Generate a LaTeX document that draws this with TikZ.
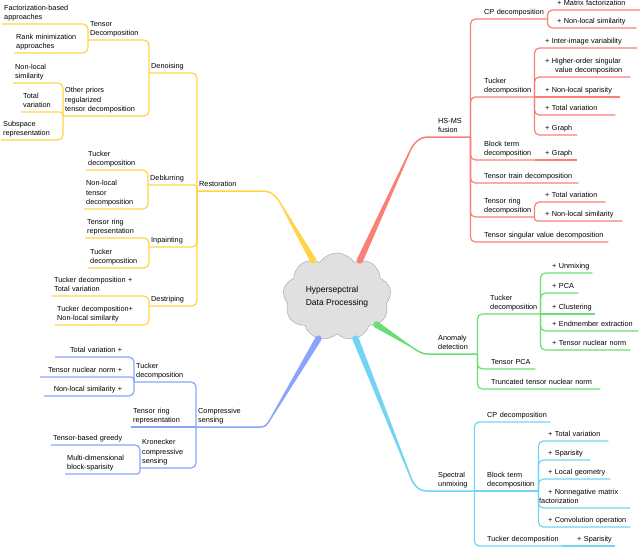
\documentclass[tikz,border=0pt]{standalone}
\usepackage{fontspec}
\setmainfont{Liberation Sans}
\usetikzlibrary{shapes.symbols,calc}
\definecolor{ycol}{RGB}{255,212,71}
\definecolor{rcol}{RGB}{250,128,118}
\definecolor{gcol}{RGB}{104,222,116}
\definecolor{ccol}{RGB}{112,212,242}
\definecolor{bcol}{RGB}{138,164,250}
\definecolor{cloudfill}{RGB}{224,224,224}
\definecolor{cloudline}{RGB}{160,160,160}
\hyphenpenalty=10000
\exhyphenpenalty=10000

\begin{document}
\begin{tikzpicture}[x=1pt,y=-1pt]
\tikzstyle{every node}+=[inner xsep=2pt, inner ysep=1pt]
\tikzstyle{topic}=[anchor=south west, align=left, execute at end node=\strut, font=\fontsize{7.3}{9.5}\selectfont]
\tikzstyle{topicr}=[topic, align=right]
\tikzstyle{ybr}=[draw=ycol, line width=1.2pt, rounded corners=5pt]
\tikzstyle{rbr}=[draw=rcol, line width=1.2pt, rounded corners=5pt]
\tikzstyle{gbr}=[draw=gcol, line width=1.2pt, rounded corners=5pt]
\tikzstyle{cbr}=[draw=ccol, line width=1.2pt, rounded corners=5pt]
\tikzstyle{bbr}=[draw=bcol, line width=1.2pt, rounded corners=5pt]
\useasboundingbox (0,0) rectangle (640,550);

\node[cloud, cloud puffs=9, cloud puff arc=115, aspect=1.25, draw=cloudline, fill=cloudfill, minimum width=108pt, minimum height=88pt, align=left, font=\fontsize{8.5}{13}\selectfont] (hdp) at (337,297) {Hypersepctral\\Data Processing};

% restoration
\node[topic, text width=61pt] (restor) at (197,191) {Restoration};
\node[topic, text width=39pt] (denoise) at (149,73) {Denoising};
\node[topic, text width=40pt] (deblur) at (148,185) {Deblurring};
\node[topic, text width=39pt] (inpaint) at (149,247) {Inpainting};
\node[topic, text width=39pt] (destripe) at (149,306) {Destriping};
\node[topic, text width=51pt] (tdec) at (88,40) {Tensor\\Decomposition};
\node[topic, text width=76pt] (fact) at (2,24) {Factorization-based\\approaches};
\node[topic, text width=65pt] (rank) at (14,53) {Rank minimization\\approaches};
\node[topic, text width=78pt] (priors) at (63,116) {Other priors\\regularized\\tensor decomposition};
\node[topic, text width=41pt] (nls) at (13,83) {Non-local\\similarity};
\node[topic, text width=33pt] (tv) at (21,112) {Total\\variation};
\node[topic, text width=53pt] (subsp) at (1,140) {Subspace\\representation};
\node[topic, text width=53pt] (dbtuck) at (86,170) {Tucker\\decomposition};
\node[topic, text width=55pt] (dbnlt) at (84,209) {Non-local\\tensor\\decomposition};
\node[topic, text width=54pt] (iptr) at (85,238) {Tensor ring\\representation};
\node[topic, text width=51pt] (iptuck) at (88,268) {Tucker\\decomposition};
\node[topic, text width=87pt] (dstv) at (52,296) {Tucker decomposition +\\Total variation};
\node[topic, text width=84pt] (dsnls) at (55,325) {Tucker decomposition+\\Non-local similarity};

\draw[ybr] (restor.south west) |- (denoise.south west);
\draw[ybr, rounded corners=3pt] (restor.south west) |- (deblur.south west);
\draw[ybr] (restor.south west) |- (inpaint.south west);
\draw[ybr] (restor.south west) |- (destripe.south west);
\draw[ybr] (denoise.south west) |- (tdec.south west);
\draw[ybr] (denoise.south west) |- (priors.south west);
\draw[ybr] (tdec.south west) |- (fact.south west);
\draw[ybr] (tdec.south west) |- (rank.south west);
\draw[ybr] (priors.south west) |- (nls.south west);
\draw[ybr, rounded corners=3pt] (priors.south west) |- (tv.south west);
\draw[ybr] (priors.south west) |- (subsp.south west);
\draw[ybr] (deblur.south west) |- (dbtuck.south west);
\draw[ybr] (deblur.south west) |- (dbnlt.south west);
\draw[ybr] (inpaint.south west) |- (iptr.south west);
\draw[ybr] (inpaint.south west) |- (iptuck.south west);
\draw[ybr] (destripe.south west) |- (dstv.south west);
\draw[ybr] (destripe.south west) |- (dsnls.south west);

% hs-ms fusion
\node[topic, text width=30pt] (hsms) at (436,137) {HS-MS\\fusion};
\node[topic, text width=61pt] (cpd) at (482,19) {CP decomposition};
\node[topic, text width=81pt] (cpmf) at (555,10) {+ Matrix factorization};
\node[topic, text width=77pt] (cpnls) at (555,28) {+ Non-local similarity};
\node[topic, text width=48pt] (tuck) at (482,97) {Tucker\\decomposition};
\node[topic, text width=90pt] (tkiiv) at (543,48) {+ Inter-image variability};
\node[topic, text width=83pt] (tkho) at (543,77) {+ Higher-order singular\\\hspace*{10pt}value decomposition};
\node[topic, text width=73pt] (tknls) at (543,97) {+ Non-local sparisity};
\node[topic, text width=68pt] (tktv) at (543,115) {+ Total variation};
\node[topic, text width=30pt] (tkgr) at (543,135) {+ Graph};
\node[topic, text width=49pt] (btd) at (482,160) {Block term\\decomposition};
\node[topic, text width=30pt] (btgr) at (543,160) {+ Graph};
\node[topic, text width=92pt] (ttd) at (482,183) {Tensor train decomposition};
\node[topic, text width=48pt] (trd) at (482,217) {Tensor ring\\decomposition};
\node[topic, text width=58pt] (trtv) at (543,202) {+ Total variation};
\node[topic, text width=75pt] (trnls) at (543,221) {+ Non-local similarity};
\node[topic, text width=122pt] (tsvd) at (482,242) {Tensor singular value decomposition};

\draw[rbr] (hsms.south east) |- (cpd.south east);
\draw[rbr] (hsms.south east) |- (tuck.south east);
\draw[rbr] (hsms.south east) |- (btd.south east);
\draw[rbr] (hsms.south east) |- (ttd.south east);
\draw[rbr] (hsms.south east) |- (trd.south east);
\draw[rbr] (hsms.south east) |- (tsvd.south east);
\draw[rbr] (cpd.south east) |- (cpmf.south east);
\draw[rbr] (cpd.south east) |- (cpnls.south east);
\draw[rbr] (tuck.south east) |- (tkiiv.south east);
\draw[rbr] (tuck.south east) |- (tkho.south east);
\draw[rbr] (tuck.south east) -- (tknls.south east);
\draw[rbr] (tuck.south east) |- (tktv.south east);
\draw[rbr] (tuck.south east) |- (tkgr.south east);
\draw[rbr] (btd.south east) -- (btgr.south east);
\draw[rbr] (trd.south east) |- (trtv.south east);
\draw[rbr, rounded corners=3pt] (trd.south east) |- (trnls.south east);

% anomaly detection
\node[topic, text width=37pt] (anom) at (436,354) {Anomaly\\detection};
\node[topic, text width=48pt] (adtuck) at (488,314) {Tucker\\decomposition};
\node[topic, text width=38pt] (adunm) at (550,273) {+ Unmixing};
\node[topic, text width=24pt] (adpca) at (550,293) {+ PCA};
\node[topic, text width=41pt] (adclu) at (550,314) {+ Clustering};
\node[topic, text width=84pt] (adend) at (550,331) {+ Endmember extraction};
\node[topic, text width=76pt] (adtnn) at (550,350) {+ Tensor nuclear norm};
\node[topic, text width=42pt] (adtpca) at (489,369) {Tensor PCA};
\node[topic, text width=107pt] (adtrunc) at (489,389) {Truncated tensor nuclear norm};

\draw[gbr] (anom.south east) |- (adtuck.south east);
\draw[gbr] (anom.south east) |- (adtpca.south east);
\draw[gbr] (anom.south east) |- (adtrunc.south east);
\draw[gbr] (adtuck.south east) |- (adunm.south east);
\draw[gbr] (adtuck.south east) |- (adpca.south east);
\draw[gbr] (adtuck.south east) -- (adclu.south east);
\draw[gbr] (adtuck.south east) |- (adend.south east);
\draw[gbr] (adtuck.south east) |- (adtnn.south east);

% spectral unmixing
\node[topic, text width=34pt] (spec) at (436,491) {Spectral\\unmixing};
\node[topic, text width=61pt] (sucp) at (485,422) {CP decomposition};
\node[topic, text width=49pt] (subt) at (485,491) {Block term\\decomposition};
\node[topic, text width=58pt] (sutv) at (546,441) {+ Total variation};
\node[topic, text width=40pt] (suspa) at (546,460) {+ Sparisity};
\node[topic, text width=60pt] (sulg) at (546,479) {+ Local geometry};
\node[topic, text width=89pt] (sunmf) at (537,508) {\hspace*{9pt}+ Nonnegative matrix\\factorization};
\node[topic, text width=80pt] (suconv) at (546,527) {+ Convolution operation};
\node[topic, text width=73pt] (sutuck) at (485,546) {Tucker decomposition};
\node[topic, text width=36pt] (suspa2) at (575,546) {+ Sparisity};

\draw[cbr] (spec.south east) |- (sucp.south east);
\draw[cbr] (spec.south east) -- (subt.south east);
\draw[cbr] (spec.south east) |- (sutuck.south east);
\draw[cbr] (subt.south east) |- (sutv.south east);
\draw[cbr] (subt.south east) |- (suspa.south east);
\draw[cbr] (subt.south east) |- (sulg.south east);
\draw[cbr] (subt.south east) |- (sunmf.south east);
\draw[cbr] (subt.south east) |- (suconv.south east);
\draw[cbr] (sutuck.south east) -- (suspa2.south east);

% compressive sensing
\node[topic, text width=60pt] (cs) at (196,427) {Compressive\\sensing};
\node[topic, text width=52pt] (cstuck) at (134,382) {Tucker\\decomposition};
\node[topicr, text width=65pt] (cstv) at (55,357) {Total variation +};
\node[topicr, text width=80pt] (cstnn) at (40,377) {Tensor nuclear norm +};
\node[topicr, text width=76pt] (csnls) at (44,396) {Non-local similarity +};
\node[topic, text width=55pt] (cstr) at (131,427) {Tensor ring\\representation};
\node[topic, text width=46pt] (cskron) at (140,468) {Kronecker\\compressive\\sensing};
\node[topic, text width=77pt] (csgreedy) at (51,445) {Tensor-based greedy};
\node[topic, text width=69pt] (csmulti) at (65,474) {Multi-dimensional\\block-sparisity};

\draw[bbr] (cs.south west) |- (cstuck.south west);
\draw[bbr] (cs.south west) -- (cstr.south west);
\draw[bbr] (cs.south west) |- (cskron.south west);
\draw[bbr] (cstuck.south west) |- (cstv.south west);
\draw[bbr, rounded corners=3pt] (cstuck.south west) |- (cstnn.south west);
\draw[bbr] (cstuck.south west) |- (csnls.south west);
\draw[bbr] (cskron.south west) |- (csgreedy.south west);
\draw[bbr, rounded corners=3pt] (cskron.south west) |- (csmulti.south west);

% main branches
\coordinate (yb) at (282,206);
\coordinate (rb) at (410,151);
\coordinate (gb) at (410,346);
\coordinate (cb) at (411,478);
\coordinate (bb) at (271,418);
\draw[draw=ycol, line width=1.5pt] (restor.south west) -- (restor.south east) .. controls (272,191) and (277,197) .. (yb);
\fill[ycol] ($(yb)!0.75pt!90:(hdp.123)$) -- ($(hdp.123)!3.2pt!-90:(yb)$) -- ($(hdp.123)!3.2pt!90:(yb)$) -- ($(yb)!0.75pt!-90:(hdp.123)$) -- cycle;
\fill[ycol] (hdp.123) circle (3.2pt);
\draw[draw=rcol, line width=1.5pt] (hsms.south east) -- (428,137) .. controls (419,137) and (413,144) .. (rb);
\fill[rcol] ($(rb)!0.75pt!90:(hdp.58)$) -- ($(hdp.58)!3.2pt!-90:(rb)$) -- ($(hdp.58)!3.2pt!90:(rb)$) -- ($(rb)!0.75pt!-90:(hdp.58)$) -- cycle;
\fill[rcol] (hdp.58) circle (3.2pt);
\draw[draw=gcol, line width=1.5pt] (anom.south east) -- (428,354) .. controls (420,354) and (415,349) .. (gb);
\fill[gcol] ($(gb)!0.75pt!90:(hdp.-35)$) -- ($(hdp.-35)!3.2pt!-90:(gb)$) -- ($(hdp.-35)!3.2pt!90:(gb)$) -- ($(gb)!0.75pt!-90:(hdp.-35)$) -- cycle;
\fill[gcol] (hdp.-35) circle (3.2pt);
\draw[draw=ccol, line width=1.5pt] (spec.south east) -- (427,491) .. controls (418,491) and (413,484) .. (cb);
\fill[ccol] ($(cb)!0.75pt!90:(hdp.-66)$) -- ($(hdp.-66)!3.2pt!-90:(cb)$) -- ($(hdp.-66)!3.2pt!90:(cb)$) -- ($(cb)!0.75pt!-90:(hdp.-66)$) -- cycle;
\fill[ccol] (hdp.-66) circle (3.2pt);
\draw[draw=bcol, line width=1.5pt] (cs.south west) -- (cs.south east) .. controls (265,427) and (267,425) .. (bb);
\fill[bcol] ($(bb)!0.75pt!90:(hdp.-114)$) -- ($(hdp.-114)!3.2pt!-90:(bb)$) -- ($(hdp.-114)!3.2pt!90:(bb)$) -- ($(bb)!0.75pt!-90:(hdp.-114)$) -- cycle;
\fill[bcol] (hdp.-114) circle (3.2pt);
\end{tikzpicture}
\end{document}
